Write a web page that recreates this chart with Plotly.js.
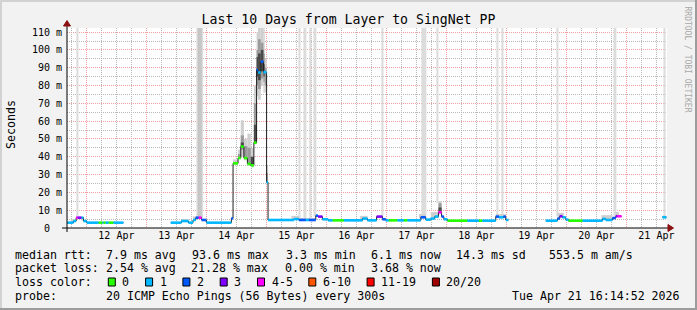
<!DOCTYPE html>
<html><head><meta charset="utf-8">
<script src="https://cdn.plot.ly/plotly-3.0.1.min.js"></script>
<style>html,body{margin:0;padding:0;background:#f2f2f2;}#chart{width:697px;height:310px;}</style>
</head><body><div id="chart"></div>
<script>
// ---------------- data ----------------
const medTime = [
"2026-04-11 16:20","2026-04-11 18:50","2026-04-11 19:55","2026-04-11 20:30","2026-04-11 22:00","2026-04-11 22:50",
"2026-04-12 00:10","2026-04-12 04:50","2026-04-12 06:25","2026-04-12 06:50","2026-04-12 07:45","2026-04-12 08:50","2026-04-12 10:50","2026-04-12 14:50",
"2026-04-13 09:45","2026-04-13 14:00","2026-04-13 16:50","2026-04-13 18:40","2026-04-13 19:45","2026-04-13 20:55","2026-04-13 22:05",
"2026-04-14 00:00","2026-04-14 10:00","2026-04-14 10:40","2026-04-14 12:40","2026-04-14 13:45","2026-04-14 15:00","2026-04-14 16:25","2026-04-14 17:45","2026-04-14 19:00","2026-04-14 20:05","2026-04-14 20:40","2026-04-14 21:45","2026-04-14 22:50",
"2026-04-15 00:05","2026-04-15 00:40","2026-04-15 11:00","2026-04-15 13:00","2026-04-15 15:45","2026-04-15 17:00","2026-04-15 19:45","2026-04-15 20:40","2026-04-15 22:25",
"2026-04-16 00:45","2026-04-16 02:25","2026-04-16 07:00","2026-04-16 14:25","2026-04-16 16:25","2026-04-16 20:05","2026-04-16 22:25","2026-04-16 23:45",
"2026-04-17 00:55","2026-04-17 04:25","2026-04-17 07:00","2026-04-17 08:25","2026-04-17 13:45","2026-04-17 15:45","2026-04-17 17:45","2026-04-17 19:20","2026-04-17 20:50","2026-04-17 22:05","2026-04-17 23:00",
"2026-04-18 00:25","2026-04-18 08:25","2026-04-18 13:00","2026-04-18 14:25","2026-04-18 19:45","2026-04-18 21:00","2026-04-18 22:50","2026-04-18 23:45",
"2026-04-19 00:50","2026-04-19 15:45","2026-04-19 20:25","2026-04-19 21:20","2026-04-19 22:25","2026-04-19 23:45",
"2026-04-20 00:50","2026-04-20 06:30","2026-04-20 14:25","2026-04-20 15:45","2026-04-20 18:25","2026-04-20 19:45","2026-04-20 20:25","2026-04-20 22:05",
"2026-04-21 14:25","2026-04-21 16:00"
];
// median rtt in ms (null = no data from this time on)
const medValue = [
3.0,3.9,5.8,5.8,5.8,3.9,
3.0,3.0,3.0,3.0,3.0,3.0,3.0,null,
3.0,3.9,3.0,4.5,5.8,5.8,4.5,
3.0,5.4,36.3,39.3,45.7,39.3,36.0,35.2,47.9,88.8,87.3,93.4,87.5,
25.7,4.5,5.0,4.5,4.5,4.5,6.9,6.4,4.9,
4.3,4.3,4.3,5.3,4.3,6.4,4.9,4.3,
4.3,4.3,4.3,4.3,6.0,4.7,5.3,6.4,8.8,6.4,4.9,
4.1,4.1,4.1,4.1,6.4,6.0,6.4,4.5,
null,4.1,5.3,6.6,6.0,4.7,
4.1,4.1,5.1,4.5,5.6,6.6,6.6,null,
6.0,null
];
// loss colour bucket index (0 = "0", 1 = "1", 2 = "2", 3 = "3", 4 = "4-5", ...)
const medLoss = [
1,1,4,3,1,1,
1,0,1,0,1,0,1,null,
1,1,1,1,2,4,2,
1,2,0,0,0,0,0,0,0,2,1,2,1,
1,1,1,2,1,2,2,3,1,
1,0,1,1,1,3,2,1,
0,1,0,1,2,1,1,1,4,2,1,
0,1,0,1,2,1,2,1,
null,1,2,3,1,1,
0,1,1,1,2,3,4,null,
1,null
];
const lossColors = ["#26ff00","#00b8ff","#0059ff","#7e00ff","#ff00ff","#ff5500","#ff0000","#a10000"];
const lossLabels = ["0","1","2","3","4-5","6-10","11-19","20/20"];

// light smoke
const smokeLStart = ["2026-04-11 17:45","2026-04-11 22:00","2026-04-13 14:00","2026-04-13 18:40","2026-04-14 10:40","2026-04-14 12:40","2026-04-14 13:45","2026-04-14 15:00","2026-04-14 16:25","2026-04-14 17:45","2026-04-14 19:00","2026-04-14 20:05","2026-04-14 20:40","2026-04-14 21:45","2026-04-14 22:50","2026-04-14 23:20","2026-04-15 00:05","2026-04-15 10:00","2026-04-15 13:00","2026-04-16 13:30","2026-04-17 13:00","2026-04-17 17:45","2026-04-17 20:50","2026-04-18 19:45","2026-04-19 20:25","2026-04-20 14:00","2026-04-20 19:45","2026-04-21 14:25"];
const smokeLEnd   = ["2026-04-11 19:55","2026-04-11 23:00","2026-04-13 16:50","2026-04-13 19:45","2026-04-14 12:40","2026-04-14 13:45","2026-04-14 15:00","2026-04-14 16:25","2026-04-14 17:45","2026-04-14 19:00","2026-04-14 20:05","2026-04-14 20:40","2026-04-14 21:45","2026-04-14 22:50","2026-04-14 23:20","2026-04-15 00:05","2026-04-15 00:40","2026-04-15 13:00","2026-04-15 19:45","2026-04-16 16:30","2026-04-17 15:45","2026-04-17 20:50","2026-04-17 22:05","2026-04-18 23:45","2026-04-19 23:00","2026-04-20 18:25","2026-04-20 21:00","2026-04-21 16:00"];
const smokeLLo = [3.4,4.2,3.6,4.5,36.3,39.0,40.0,38.0,35.0,34.0,47.0,74.0,72.0,80.0,76.0,76.0,25.0,4.6,4.5,4.4,5.5,5.8,8.8,5.8,5.8,4.8,6.6,5.8];
const smokeLHi = [4.9,6.2,5.0,6.5,38.5,44.0,60.5,50.0,53.0,45.0,80.0,110.0,112.3,112.3,112.3,95.0,35.0,6.8,5.6,6.8,7.8,9.0,15.0,7.8,8.5,7.2,9.0,7.0];
// medium smoke
const smokeMStart = ["2026-04-14 12:40","2026-04-14 13:45","2026-04-14 15:00","2026-04-14 16:25","2026-04-14 17:45","2026-04-14 19:00","2026-04-14 20:05","2026-04-14 20:40","2026-04-14 21:45","2026-04-14 22:50","2026-04-14 23:20","2026-04-15 00:05","2026-04-17 20:50"];
const smokeMEnd   = ["2026-04-14 13:45","2026-04-14 15:00","2026-04-14 16:25","2026-04-14 17:45","2026-04-14 19:00","2026-04-14 20:05","2026-04-14 20:40","2026-04-14 21:45","2026-04-14 22:50","2026-04-14 23:20","2026-04-15 00:05","2026-04-15 00:40","2026-04-17 22:05"];
const smokeMLo = [39.3,44.0,39.5,36.0,35.0,48.0,80.0,78.0,84.0,82.0,80.0,26.0,9.0];
const smokeMHi = [41.5,52.0,46.0,45.0,40.0,70.0,100.0,106.0,104.0,98.0,90.0,31.0,13.9];
// dark smoke
const smokeDStart = ["2026-04-14 13:45","2026-04-14 17:45","2026-04-14 19:00","2026-04-14 20:05","2026-04-14 20:40","2026-04-14 21:45","2026-04-14 22:50","2026-04-17 20:50"];
const smokeDEnd   = ["2026-04-14 15:00","2026-04-14 19:00","2026-04-14 20:05","2026-04-14 20:40","2026-04-14 21:45","2026-04-14 22:50","2026-04-14 23:20","2026-04-17 22:05"];
const smokeDLo = [45.0,35.0,48.0,85.0,83.0,88.0,85.0,9.2];
const smokeDHi = [48.0,40.0,58.0,96.0,98.0,100.0,92.0,11.5];
// off-scale pings: light columns from the median up to the top
const tallStart = ["2026-04-11 20:00","2026-04-13 20:00","2026-04-15 12:50","2026-04-15 14:50","2026-04-15 17:10","2026-04-15 18:50","2026-04-16 22:00","2026-04-17 14:00","2026-04-17 20:00","2026-04-18 20:00","2026-04-18 22:00","2026-04-19 20:00","2026-04-20 18:50","2026-04-21 14:50"];
const tallEnd   = ["2026-04-11 20:50","2026-04-13 22:40","2026-04-15 13:40","2026-04-15 16:00","2026-04-15 18:00","2026-04-15 20:00","2026-04-16 22:50","2026-04-17 16:00","2026-04-17 20:50","2026-04-18 20:50","2026-04-18 22:50","2026-04-19 20:50","2026-04-20 20:00","2026-04-21 15:40"];
const tallBase  = [5.8,5.8,4.8,4.8,4.8,6.5,5.2,6.2,14.0,6.8,6.8,6.6,6.8,6.4];
const tall2Start = ["2026-04-13 20:30"];
const tall2End   = ["2026-04-13 22:10"];
const tall2Base  = [5.8];

const dayNoon = ["2026-04-12 12:00","2026-04-13 12:00","2026-04-14 12:00","2026-04-15 12:00","2026-04-16 12:00","2026-04-17 12:00","2026-04-18 12:00","2026-04-19 12:00","2026-04-20 12:00","2026-04-21 12:00"];
const dayLabels = ["12 Apr","13 Apr","14 Apr","15 Apr","16 Apr","17 Apr","18 Apr","19 Apr","20 Apr","21 Apr"];
const yTickVals = [0,10,20,30,40,50,60,70,80,90,100,110];
const yTickText = ["0\u00a0\u00a0","10 m","20 m","30 m","40 m","50 m","60 m","70 m","80 m","90 m","100 m","110 m"];

const titleText = "Last 10 Days from Layer to SingNet PP";
const rttLabel = "median rtt:";
const rttStats = ["7.9 ms avg","93.6 ms max","3.3 ms min","6.1 ms now","14.3 ms sd","553.5 m am/s"];
const lossLabel = "packet loss:";
const lossStats = ["2.54 % avg","21.28 % max","0.00 % min","3.68 % now"];
const colorLabel = "loss color:";
const probeLabel = "probe:";
const probeText = "20 ICMP Echo Pings (56 Bytes) every 300s";
const stampText = "Tue Apr 21 16:14:52 2026";
const yTitle = "Seconds";
const watermark = "RRDTOOL / TOBI OETIKER";

// ---------------- build ----------------
const FONT = "DejaVu Sans Mono";
const Y_MAX = 112.3;
const X_RANGE = ["2026-04-11 16:15","2026-04-21 16:15"];
function toMs(s){const [d,t]=s.split(" ");const [Y,M,D]=d.split("-").map(Number);const [h,m]=t.split(":").map(Number);return Date.UTC(Y,M-1,D,h,m);}
function band(st,en,lo,hi,color){
  return {type:"bar",x:st,base:lo,y:hi.map((h,i)=>h-lo[i]),width:st.map((s,i)=>toMs(en[i])-toMs(s)),offset:0,
    marker:{color:color,line:{width:0}},hoverinfo:"skip",showlegend:false};
}
const traces = [];
traces.push(band(tallStart,tallEnd,tallBase,tallBase.map(()=>Y_MAX),"#dcdcdc"));
traces.push(band(tall2Start,tall2End,tall2Base,tall2Base.map(()=>Y_MAX),"#c6c6c6"));
traces.push(band(smokeLStart,smokeLEnd,smokeLLo,smokeLHi,"#cfcfcf"));
traces.push(band(smokeMStart,smokeMEnd,smokeMLo,smokeMHi,"#9a9a9a"));
traces.push(band(smokeDStart,smokeDEnd,smokeDLo,smokeDHi,"#4a4a4a"));

const lx=[],ly=[];
for(let i=0;i<medTime.length;i++){
  lx.push(medTime[i]);ly.push(medValue[i]);
  if(medValue[i]!==null && i+1<medTime.length && medValue[i+1]===null){lx.push(medTime[i+1]);ly.push(medValue[i]);}
}
traces.push({type:"scatter",mode:"lines",x:lx,y:ly,line:{color:"#202020",width:1,shape:"hv"},hoverinfo:"skip",showlegend:false});
lossColors.forEach((c,b)=>{
  const x=[],y=[];
  for(let i=0;i+1<medTime.length;i++){
    if(medLoss[i]===b && medValue[i]!==null){x.push(medTime[i],medTime[i+1],null);y.push(medValue[i],medValue[i],null);}
  }
  if(x.length) traces.push({type:"scatter",mode:"lines",x:x,y:y,line:{color:c,width:2.6},hoverinfo:"skip",showlegend:false});
});
traces.push({type:"scatter",mode:"lines",x:dayNoon,y:dayNoon.map(()=>null),xaxis:"x2",yaxis:"y",hoverinfo:"skip",showlegend:false});
traces.push({type:"scatter",mode:"lines",x:dayNoon,y:dayNoon.map(()=>null),xaxis:"x3",yaxis:"y",hoverinfo:"skip",showlegend:false});

// pixel helpers for decorations
const px=(p)=>(p-67)/600, py=(p)=>(228-p)/200;
const shapes=[];
const ann=[];
function txt(t,x,y,size,extra){ann.push(Object.assign({text:t,xref:"paper",yref:"paper",x:px(x),y:py(y),xanchor:"left",yanchor:"middle",showarrow:false,borderpad:0,borderwidth:0,font:{family:FONT,size:size,color:"#000"}},extra||{}));}
// axis lines & arrows
shapes.push({type:"line",xref:"paper",yref:"paper",x0:px(62),x1:px(669),y0:py(228),y1:py(228),line:{color:"#000",width:1},layer:"above"});
shapes.push({type:"line",xref:"paper",yref:"paper",x0:px(67),x1:px(67),y0:py(232),y1:py(24),line:{color:"#000",width:1},layer:"above"});
shapes.push({type:"path",xref:"paper",yref:"paper",path:`M ${px(668)} ${py(224.5)} L ${px(673.5)} ${py(228)} L ${px(668)} ${py(231.5)} Z`,fillcolor:"#8b1010",line:{color:"#8b1010",width:1},layer:"above"});
shapes.push({type:"path",xref:"paper",yref:"paper",path:`M ${px(63.5)} ${py(26)} L ${px(67)} ${py(20.5)} L ${px(70.5)} ${py(26)} Z`,fillcolor:"#8b1010",line:{color:"#8b1010",width:1},layer:"above"});
// frame
shapes.push({type:"line",xref:"paper",yref:"paper",x0:px(0),x1:px(697),y0:py(1),y1:py(1),line:{color:"#d2d2d2",width:2}});
shapes.push({type:"line",xref:"paper",yref:"paper",x0:px(1),x1:px(1),y0:py(0),y1:py(310),line:{color:"#d2d2d2",width:2}});
shapes.push({type:"line",xref:"paper",yref:"paper",x0:px(0),x1:px(697),y0:py(309),y1:py(309),line:{color:"#9c9c9c",width:2}});
shapes.push({type:"line",xref:"paper",yref:"paper",x0:px(696),x1:px(696),y0:py(0),y1:py(310),line:{color:"#9c9c9c",width:2}});

// legend text
const R1=254.5,R2=268,R3=282,R4=295.5,LF=11.6;
txt(rttLabel,15,R1,LF);
[106.3,191.7,285.7,371.3,456,549].forEach((x,i)=>txt(rttStats[i],x,R1,LF));
txt(lossLabel,15,R2,LF);
[106.3,190.7,285,371.3].forEach((x,i)=>txt(lossStats[i],x,R2,LF));
txt(colorLabel,15,R3,LF);
let bx=108.3;
lossColors.forEach((c,i)=>{
  shapes.push({type:"rect",xref:"paper",yref:"paper",x0:px(bx),x1:px(bx+7),y0:py(278),y1:py(286),fillcolor:c,line:{color:"#000",width:1}});
  txt(lossLabels[i],bx+14,R3,LF);
  bx += 15 + 7*lossLabels[i].length + 15.3;
});
txt(probeLabel,15,R4,LF);
txt(probeText,106.3,R4,LF);
txt(stampText,512.3,R4,LF);
// y title & watermark
ann.push({text:yTitle,xref:"paper",yref:"paper",x:px(11),y:py(125),xanchor:"center",yanchor:"middle",textangle:-90,showarrow:false,font:{family:FONT,size:LF,color:"#000"}});
ann.push({text:watermark,xref:"paper",yref:"paper",x:px(687.5),y:py(59),xanchor:"center",yanchor:"middle",textangle:90,showarrow:false,font:{family:FONT,size:8,color:"#a8a8a8"}});

const GRID_MINOR="#b8b8b8", GRID_MAJOR="#f0a0a0";
const layout={
  width:697,height:310,margin:{l:67,r:30,t:28,b:82,pad:0},
  paper_bgcolor:"#f2f2f2",plot_bgcolor:"#ffffff",showlegend:false,barmode:"overlay",
  font:{family:FONT,size:10,color:"#000"},
  title:{text:titleText,font:{family:FONT,size:13.2,color:"#000"},x:0.5,xref:"container",xanchor:"center",y:1-19.5/310,yref:"container",yanchor:"middle"},
  // 6-hour minor grid (main axis, drawn first)
  xaxis:{type:"date",range:X_RANGE,tickmode:"linear",tick0:"2026-04-12",dtick:21600000,showticklabels:false,ticks:"",
    showgrid:true,gridcolor:GRID_MINOR,griddash:"1px,1px",zeroline:false,showline:false,fixedrange:true},
  // day grid drawn over it
  xaxis3:{type:"date",overlaying:"x",anchor:"y",range:X_RANGE,tickmode:"linear",tick0:"2026-04-12",dtick:86400000,showticklabels:false,ticks:"",
    showgrid:true,gridcolor:GRID_MAJOR,griddash:"1px,1px",zeroline:false,showline:false},
  // day labels at noon
  xaxis2:{type:"date",overlaying:"x",anchor:"y",side:"bottom",range:X_RANGE,tickmode:"array",tickvals:dayNoon,ticktext:dayLabels,
    showgrid:false,ticks:"",zeroline:false,showline:false,tickfont:{family:FONT,size:10,color:"#000"}},
  yaxis:{range:[0,Y_MAX],tickmode:"array",tickvals:yTickVals,ticktext:yTickText,showgrid:true,gridcolor:GRID_MAJOR,griddash:"1px,1px",
    minor:{tick0:0,dtick:5,showgrid:true,gridcolor:GRID_MINOR,griddash:"1px,1px",ticks:""},
    zeroline:false,showline:false,ticks:"",ticklabelstandoff:4,tickfont:{family:FONT,size:10,color:"#000"},fixedrange:true},
  shapes:shapes,annotations:ann
};
Plotly.newPlot("chart",traces,layout,{staticPlot:true,displayModeBar:false});
</script></body></html>
